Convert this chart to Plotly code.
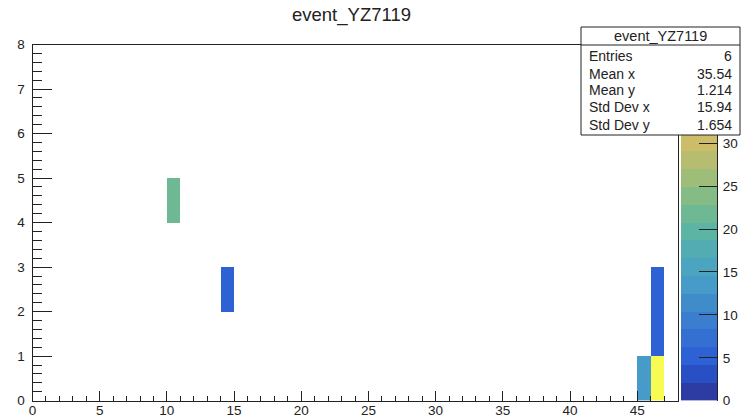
import plotly.graph_objects as go

# ---- histogram content -------------------------------------------------
title = "event_YZ7119"
n_xbins, n_ybins = 48, 8          # unit-wide bins, x in [0,48), y in [0,8)
# lower edges of the filled bins and their contents
bin_x = [10, 14, 45, 46, 46, 46]
bin_y = [4, 2, 0, 0, 1, 2]
bin_w = [22.0, 5.8, 14.2, 41.5, 5.4, 5.0]

x_tick_vals = [0, 5, 10, 15, 20, 25, 30, 35, 40, 45]
y_tick_vals = [0, 1, 2, 3, 4, 5, 6, 7, 8]
z_tick_vals = [0, 5, 10, 15, 20, 25, 30]

stat_labels = ["Entries", "Mean x", "Mean y", "Std Dev x", "Std Dev y"]
stat_values = ["6", "35.54", "1.214", "15.94", "1.654"]

# ---- ROOT kBird palette, 20 contour levels ----------------------------
stops = [0.0000, 0.1250, 0.2500, 0.3750, 0.5000, 0.6250, 0.7500, 0.8750, 1.0000]
red   = [0.2082, 0.0592, 0.0780, 0.0232, 0.1802, 0.5301, 0.8186, 0.9956, 0.9764]
green = [0.1664, 0.3599, 0.5041, 0.6419, 0.7178, 0.7492, 0.7328, 0.7862, 0.9832]
blue  = [0.5293, 0.8684, 0.8385, 0.7914, 0.6425, 0.4662, 0.3499, 0.1968, 0.0539]
N_COLORS, N_LEVELS = 255, 20

# linear sRGB -> linear Display-P3
SRGB_TO_P3 = [[0.8225, 0.1774, 0.0000],
              [0.0332, 0.9669, 0.0000],
              [0.0171, 0.0724, 0.9108]]


def _lin(c):
    return c / 12.92 if c <= 0.04045 else ((c + 0.055) / 1.055) ** 2.4


def _enc(c):
    c = min(max(c, 0.0), 1.0)
    return c * 12.92 if c <= 0.0031308 else 1.055 * c ** (1 / 2.4) - 0.055


def to_p3(rgb):
    lin = [_lin(v) for v in rgb]
    return [_enc(sum(m * v for m, v in zip(row, lin))) for row in SRGB_TO_P3]


def bird(t):
    for k in range(len(stops) - 1):
        if t <= stops[k + 1]:
            f = (t - stops[k]) / (stops[k + 1] - stops[k])
            break
    else:
        k, f = len(stops) - 2, 1.0
    c = [ch[k] + (ch[k + 1] - ch[k]) * f for ch in (red, green, blue)]
    c = [round(v * 255) / 255 for v in c]
    return "rgb(%d,%d,%d)" % tuple(round(v * 255) for v in to_p3(c))


colorscale = []
for i in range(N_LEVELS):
    idx = min(int((i + 0.99) * N_COLORS / N_LEVELS), N_COLORS - 1)
    col = bird(idx / (N_COLORS - 1))
    colorscale.append([i / N_LEVELS, col])
    colorscale.append([(i + 1) / N_LEVELS, col])

zmin, zmax = 0.0, max(bin_w)

# ---- grid of bin contents ---------------------------------------------
z = [[None] * n_xbins for _ in range(n_ybins)]
for bx, by, w in zip(bin_x, bin_y, bin_w):
    z[by][bx] = w
x_centers = [i + 0.5 for i in range(n_xbins)]
y_centers = [j + 0.5 for j in range(n_ybins)]

# palette strip values (one cell per contour level)
dz = (zmax - zmin) / N_LEVELS
level_mid = [zmin + (i + 0.5) * dz for i in range(N_LEVELS)]

# ---- geometry helpers (pixels -> paper) --------------------------------
W, H = 741, 418


def fx(px):
    return px / W


def fy(py):
    return 1 - py / H


FONT = "Liberation Sans, Arial, Helvetica, sans-serif"
INK = "#222222"

fig = go.Figure()
fig.add_trace(go.Heatmap(
    x=x_centers, y=y_centers, z=z, zmin=zmin, zmax=zmax,
    colorscale=colorscale, showscale=False, hoverongaps=False,
    xaxis="x", yaxis="y"))
fig.add_trace(go.Heatmap(
    x=[0], y=level_mid, z=[[v] for v in level_mid], zmin=zmin, zmax=zmax,
    colorscale=colorscale, showscale=False, xaxis="x2", yaxis="y2"))

axis_common = dict(showgrid=False, zeroline=False, showline=True,
                   linecolor=INK, linewidth=1, tickcolor=INK,
                   tickfont=dict(family=FONT, size=13.5, color=INK))

fig.update_layout(
    width=W, height=H, margin=dict(l=0, r=0, t=0, b=0),
    paper_bgcolor="white", plot_bgcolor="white", showlegend=False,
    xaxis=dict(domain=[fx(32.5), fx(677.5)], range=[0, n_xbins], anchor="y",
               tickvals=x_tick_vals, ticks="inside", ticklen=10, mirror=True,
               minor=dict(dtick=1, tick0=0, ticks="inside", ticklen=5,
                          tickcolor=INK),
               ticklabelstandoff=-3, automargin=False, **axis_common),
    yaxis=dict(domain=[fy(400.7), fy(44.5)], range=[0, n_ybins], anchor="x",
               tickvals=y_tick_vals, ticks="inside", ticklen=19, mirror=True,
               minor=dict(dtick=0.2, tick0=0, ticks="inside", ticklen=9,
                          tickcolor=INK),
               ticklabelstandoff=4, automargin=False, **axis_common),
    xaxis2=dict(domain=[fx(681), fx(717)], range=[-0.5, 0.5], anchor="y2",
                showgrid=False, zeroline=False, showticklabels=False,
                ticks="", showline=False),
    yaxis2=dict(domain=[fy(400.7), fy(44.5)], range=[zmin, zmax],
                anchor="x2", side="right", tickvals=z_tick_vals,
                ticks="inside", ticklen=18, ticklabelstandoff=2,
                automargin=False, **axis_common),
)

# title
fig.add_annotation(x=fx(351), y=fy(15), xref="paper", yref="paper",
                   text=title, showarrow=False, xanchor="center",
                   yanchor="middle",
                   font=dict(family=FONT, size=18.5, color=INK))

# statistics box
bx0, bx1, by0, by1, bsep = 581, 740, 27, 135, 45
fig.add_shape(type="rect", xref="paper", yref="paper",
              x0=fx(bx0), x1=fx(bx1), y0=fy(by1), y1=fy(by0),
              fillcolor="white", line=dict(color=INK, width=1), layer="above")
fig.add_shape(type="line", xref="paper", yref="paper",
              x0=fx(bx0), x1=fx(bx1), y0=fy(bsep), y1=fy(bsep),
              line=dict(color=INK, width=1), layer="above")
fig.add_annotation(x=fx((bx0 + bx1) / 2), y=fy(36), xref="paper",
                   yref="paper", text=title, showarrow=False,
                   xanchor="center", yanchor="middle",
                   font=dict(family=FONT, size=14.5, color=INK))
row_y = [56, 73.5, 90.5, 107.5, 124.5]
for lab, val, ry in zip(stat_labels, stat_values, row_y):
    fig.add_annotation(x=fx(587), y=fy(ry), xref="paper", yref="paper",
                       text=lab, showarrow=False, xanchor="left",
                       yanchor="middle",
                       font=dict(family=FONT, size=14, color=INK))
    fig.add_annotation(x=fx(734), y=fy(ry), xref="paper", yref="paper",
                       text=val, showarrow=False, xanchor="right",
                       yanchor="middle",
                       font=dict(family=FONT, size=14, color=INK))

fig.write_html("out.html")
